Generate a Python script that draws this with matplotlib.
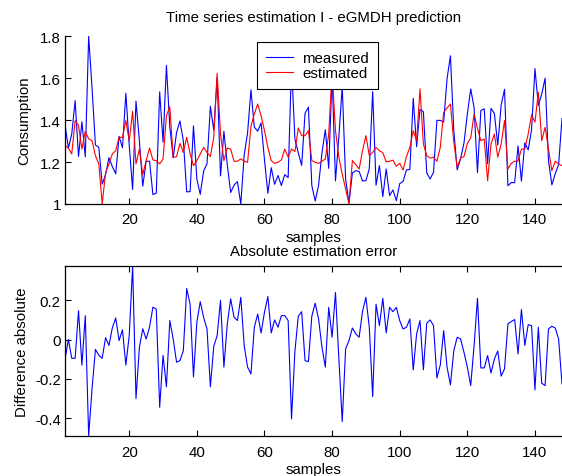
import matplotlib
matplotlib.use('Agg')
import matplotlib.pyplot as plt
import numpy as np

plt.rcParams['font.family'] = ['Liberation Sans', 'DejaVu Sans']
plt.rcParams['axes.unicode_minus'] = False

samples = np.arange(1, 149)

measured = [
    1.378, 1.267, 1.334, 1.493, 1.227, 1.392, 1.225, 1.800, 1.552, 1.281,
    1.271, 1.095, 1.140, 1.221, 1.179, 1.144, 1.323, 1.268, 1.528, 1.280,
    1.069, 1.491, 1.302, 1.085, 1.204, 1.204, 1.045, 1.052, 1.535, 1.295,
    1.661, 1.367, 1.220, 1.341, 1.396, 1.302, 1.058, 1.059, 1.373, 1.119,
    1.046, 1.157, 1.192, 1.466, 1.352, 1.603, 1.134, 1.347, 1.187, 1.055,
    1.090, 1.107, 1.000, 1.234, 1.339, 1.545, 1.367, 1.347, 1.387, 1.211,
    1.051, 1.173, 1.094, 1.136, 1.088, 1.140, 1.126, 1.665, 1.310, 1.244,
    1.184, 1.433, 1.462, 1.088, 1.014, 1.089, 1.243, 1.355, 1.170, 1.618,
    1.110, 1.321, 1.560, 1.119, 1.005, 1.148, 1.159, 1.155, 1.110, 1.111,
    1.168, 1.536, 1.090, 1.183, 1.035, 1.167, 1.040, 1.067, 1.016, 1.097,
    1.108, 1.163, 1.165, 1.504, 1.273, 1.452, 1.440, 1.148, 1.119, 1.152,
    1.399, 1.399, 1.391, 1.598, 1.707, 1.350, 1.163, 1.216, 1.290, 1.429,
    1.549, 1.459, 1.150, 1.446, 1.454, 1.192, 1.456, 1.432, 1.281, 1.472,
    1.547, 1.087, 1.102, 1.102, 1.277, 1.109, 1.292, 1.258, 1.355, 1.646,
    1.470, 1.524, 1.600, 1.208, 1.091, 1.145, 1.188, 1.408,
]

estimated = [
    1.278, 1.267, 1.239, 1.398, 1.374, 1.262, 1.347, 1.311, 1.302, 1.231,
    1.191, 1.000, 1.150, 1.191, 1.239, 1.254, 1.318, 1.318, 1.398, 1.302,
    1.442, 1.191, 1.262, 1.140, 1.207, 1.267, 1.210, 1.207, 1.191, 1.215,
    1.421, 1.464, 1.223, 1.226, 1.289, 1.246, 1.318, 1.239, 1.183, 1.207,
    1.239, 1.270, 1.246, 1.226, 1.318, 1.623, 1.334, 1.207, 1.267, 1.262,
    1.204, 1.204, 1.215, 1.204, 1.199, 1.370, 1.430, 1.477, 1.421, 1.350,
    1.270, 1.207, 1.194, 1.199, 1.210, 1.262, 1.223, 1.262, 1.250, 1.363,
    1.326, 1.326, 1.350, 1.207, 1.199, 1.194, 1.204, 1.215, 1.334, 1.630,
    1.350, 1.223, 1.143, 1.072, 1.000, 1.207, 1.188, 1.167, 1.254, 1.326,
    1.231, 1.246, 1.270, 1.254, 1.245, 1.201, 1.204, 1.209, 1.180, 1.194,
    1.162, 1.226, 1.270, 1.350, 1.302, 1.549, 1.286, 1.231, 1.219, 1.223,
    1.204, 1.270, 1.437, 1.458, 1.477, 1.294, 1.175, 1.219, 1.226, 1.289,
    1.315, 1.429, 1.360, 1.302, 1.310, 1.111, 1.286, 1.334, 1.223, 1.286,
    1.398, 1.167, 1.194, 1.204, 1.204, 1.262, 1.262, 1.334, 1.426, 1.390,
    1.533, 1.302, 1.366, 1.262, 1.159, 1.204, 1.191, 1.183,
]

# absolute estimation error (estimated - measured)
error = np.array(estimated) - np.array(measured)

xticks = [20, 40, 60, 80, 100, 120, 140]
top_yticks = [1.0, 1.2, 1.4, 1.6, 1.8]
top_ylabels = ['1', '1.2', '1.4', '1.6', '1.8']
bot_yticks = [-0.4, -0.2, 0.0, 0.2]
bot_ylabels = ['-0.4', '-0.2', '0', '0.2']

W, H = 562, 477
fig = plt.figure(figsize=(W / 100, H / 100), dpi=100)
FS = 10.8

# ---- top axes ----
ax1 = fig.add_axes([65 / W, 1 - 205 / H, 497 / W, (205 - 37.3) / H])
ax1.plot(samples, measured, color='#0000ff', lw=0.8, label='measured')
ax1.plot(samples, estimated, color='#ff0000', lw=0.8, label='estimated')
ax1.set_xlim(1, 148)
ax1.set_ylim(1.0, 1.8)
ax1.set_xticks(xticks)
ax1.set_xticklabels([str(t) for t in xticks])
ax1.set_yticks(top_yticks)
ax1.set_yticklabels(top_ylabels)
ax1.spines['top'].set_visible(False)
ax1.spines['right'].set_visible(False)
ax1.tick_params(direction='in', length=4, width=0.8, labelsize=FS, pad=3)
ax1.tick_params(axis='x', pad=6)
ax1.set_title('Time series estimation I - eGMDH prediction', fontsize=FS, pad=11)
ax1.set_xlabel('samples', fontsize=FS, labelpad=3)
ax1.set_ylabel('Consumption', fontsize=FS, labelpad=6)
leg = ax1.legend(loc='upper left', bbox_to_anchor=(256.7 / W, 1 - 43.3 / H),
                 bbox_transform=fig.transFigure, fontsize=FS, frameon=True,
                 fancybox=False, edgecolor='black', borderaxespad=0,
                 handlelength=1.8, handletextpad=0.65, labelspacing=0.05,
                 borderpad=0.6)
leg.get_frame().set_linewidth(0.8)
leg.get_frame().set_alpha(1)

# ---- bottom axes ----
ax2 = fig.add_axes([65 / W, 1 - 436.7 / H, 497 / W, (436.7 - 267.3) / H])
ax2.plot(samples, error, color='#0000ff', lw=0.8)
ax2.set_xlim(1, 148)
ax2.set_ylim(-0.489, 0.373)
ax2.set_xticks(xticks)
ax2.set_xticklabels([str(t) for t in xticks])
ax2.set_yticks(bot_yticks)
ax2.set_yticklabels(bot_ylabels)
ax2.spines['right'].set_visible(False)
ax2.tick_params(direction='in', length=4, width=0.8, labelsize=FS, pad=3,
                top=True)
ax2.tick_params(axis='x', pad=7)
ax2.set_title('Absolute estimation error', fontsize=FS, pad=8)
ax2.set_xlabel('samples', fontsize=FS, labelpad=2)
ax2.set_ylabel('Difference absolute', fontsize=FS, labelpad=4)

for ax in (ax1, ax2):
    for s in ax.spines.values():
        s.set_linewidth(0.9)

fig.savefig('out.png', dpi=100)
